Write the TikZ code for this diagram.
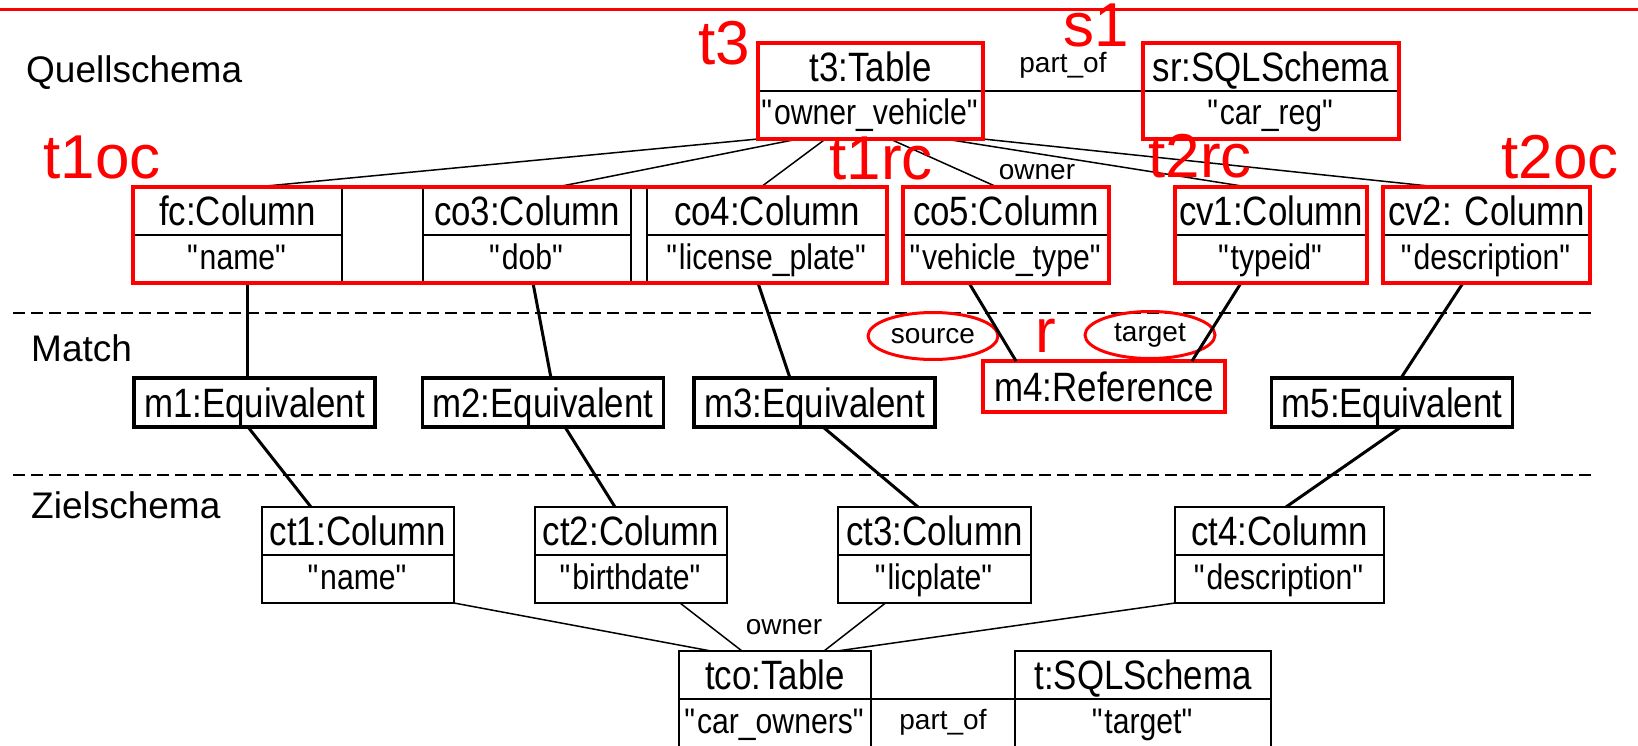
\documentclass[tikz,border=0pt]{standalone}
\usepackage{fontspec}
\setmainfont{Liberation Sans}
\newfontfamily\boxfont{Liberation Sans}[FakeStretch=0.85]
\newcommand{\qstr}[1]{\textquotedbl#1\textquotedbl}
\usetikzlibrary{positioning,shapes.geometric}

\tikzset{
  hd/.style={draw, line width=1.8pt, outer sep=0pt, inner sep=0pt, minimum height=48pt, text height=29pt, text depth=-3pt, font=\boxfont\fontsize{41}{48}\selectfont},
  vl/.style={draw, line width=1.8pt, outer sep=0pt, inner sep=0pt, minimum height=48pt, text height=25pt, text depth=5pt, font=\boxfont\fontsize{35.5}{42}\selectfont},
  mbox/.style={draw, line width=3.2pt, outer sep=0pt, inner sep=0pt, minimum width=241pt, minimum height=49pt, text height=29pt, text depth=-2pt, font=\boxfont\fontsize{41}{48}\selectfont},
  redbox/.style={draw=red, line width=4pt},
  redlbl/.style={red, inner sep=0pt, font=\fontsize{62}{70}\selectfont},
  secl/.style={anchor=west, inner sep=0pt, font=\fontsize{37}{44}\selectfont},
  lbl/.style={inner sep=0pt, font=\fontsize{28}{32}\selectfont},
  conn/.style={line width=1.5pt},
  mcon/.style={line width=3pt},
  layerline/.style={line width=1.5pt, dash pattern=on 12pt off 6pt},
  role/.style={ellipse, draw=red, line width=3pt, minimum width=130pt, minimum height=47pt, inner sep=0pt, font=\fontsize{28}{32}\selectfont},
}

\begin{document}
\begin{tikzpicture}[x=1pt, y=-1pt]
  \useasboundingbox (0,0) rectangle (1638,746);
  \draw[red, line width=3pt] (0,10) -- (1638,10);

  % layers
  \node[secl] (quell) at (26,73) {Quellschema};
  \node[secl] (match) at (31,348) {Match};
  \node[secl] (ziel) at (31,505) {Zielschema};
  \draw[layerline] (13,313) -- (1594,313);
  \draw[layerline] (13,475) -- (1594,475);

  % source schema
  \node[hd, minimum width=225pt] (t3) at (870.5,67) {t3:Table};
  \node[vl, minimum width=225pt, below=0pt of t3] (t3v) {\qstr{owner\_vehicle}};
  \node[hd, minimum width=256pt] (sr) at (1271,67) {sr:SQLSchema};
  \node[vl, minimum width=256pt, below=0pt of sr] (srv) {\qstr{car\_reg}};

  \node[hd, minimum width=209pt] (fc) at (237.5,211) {fc:Column};
  \node[vl, minimum width=209pt, below=0pt of fc] (fcv) {\qstr{name}};
  \node[hd, minimum width=208pt] (co3) at (527,211) {co3:Column};
  \node[vl, minimum width=208pt, below=0pt of co3] (co3v) {\qstr{dob}};
  \node[hd, minimum width=240pt] (co4) at (767,211) {co4:Column};
  \node[vl, minimum width=240pt, below=0pt of co4] (co4v) {\qstr{license\_plate}};
  \node[hd, minimum width=206pt] (co5) at (1006,211) {co5:Column};
  \node[vl, minimum width=206pt, below=0pt of co5] (co5v) {\qstr{vehicle\_type}};
  \node[hd, minimum width=192pt] (cv1) at (1271,211) {cv1:Column};
  \node[vl, minimum width=192pt, below=0pt of cv1] (cv1v) {\qstr{typeid}};
  \node[hd, minimum width=207pt] (cv2) at (1486.5,211) {cv2: Column};
  \node[vl, minimum width=207pt, below=0pt of cv2] (cv2v) {\qstr{description}};

  \draw[conn] (t3.south east) -- node[lbl, above=12pt] (po1) {part\_of} (sr.south west);
  \draw[conn] (t3v.south west) -- ([xshift=18.5pt]fc.north);
  \draw[conn] ([xshift=-72.5pt]t3v.south) -- ([xshift=30pt]co3.north);
  \draw[conn] ([xshift=-45pt]t3v.south) -- ([xshift=-6pt]co4.north);
  \draw[conn] ([xshift=19.5pt]t3v.south) -- ([xshift=-9pt]co5.north);
  \draw[conn] ([xshift=74.5pt]t3v.south) -- ([xshift=-23pt]cv1.north);
  \draw[conn] (t3v.south east) -- ([xshift=-48.5pt]cv2.north);
  \node[lbl] (own1) at (1037,172) {owner};

  % match
  \node[mbox] (m1) at (254.5,402.5) {m1:Equivalent};
  \node[mbox] (m2) at (543,402.5) {m2:Equivalent};
  \node[mbox] (m3) at (814.5,402.5) {m3:Equivalent};
  \node[mbox, draw=red, minimum width=242pt, minimum height=51pt] (m4) at (1104,386.5) {m4:Reference};
  \node[mbox] (m5) at (1392,402.5) {m5:Equivalent};
  \node[role] (src) at (933,336) {source};
  \node[role] (tgt) at (1150,335) {target};

  \draw[mcon] ([xshift=9.5pt]fcv.south) -- ([xshift=-7.5pt]m1.north);
  \draw[mcon] ([xshift=6pt]co3v.south) -- ([xshift=8pt]m2.north);
  \draw[mcon] ([xshift=-9pt]co4v.south) -- ([xshift=-24.5pt]m3.north);
  \draw[mcon] ([xshift=-37pt]co5v.south) -- ([xshift=-88pt]m4.north);  % source
  \draw[mcon] ([xshift=-30pt]cv1v.south) -- ([xshift=88pt]m4.north);   % target
  \draw[mcon] ([xshift=-23.5pt]cv2v.south) -- ([xshift=9pt]m5.north);

  % target schema
  \node[hd, minimum width=192pt] (ct1) at (358,531) {ct1:Column};
  \node[vl, minimum width=192pt, below=0pt of ct1] (ct1v) {\qstr{name}};
  \node[hd, minimum width=192pt] (ct2) at (631,531) {ct2:Column};
  \node[vl, minimum width=192pt, below=0pt of ct2] (ct2v) {\qstr{birthdate}};
  \node[hd, minimum width=193pt] (ct3) at (934.5,531) {ct3:Column};
  \node[vl, minimum width=193pt, below=0pt of ct3] (ct3v) {\qstr{licplate}};
  \node[hd, minimum width=209pt] (ct4) at (1279.5,531) {ct4:Column};
  \node[vl, minimum width=209pt, below=0pt of ct4] (ct4v) {\qstr{description}};
  \node[hd, minimum width=192pt] (tco) at (775,675) {tco:Table};
  \node[vl, minimum width=192pt, below=0pt of tco] (tcov) {\qstr{car\_owners}};
  \node[hd, minimum width=256pt] (tsch) at (1143,675) {t:SQLSchema};
  \node[vl, minimum width=256pt, below=0pt of tsch] (tschv) {\qstr{target}};

  \draw[mcon] ([xshift=-6.5pt]m1.south) -- ([xshift=-47pt]ct1.north);
  \draw[mcon] ([xshift=22pt]m2.south) -- ([xshift=-16pt]ct2.north);
  \draw[mcon] ([xshift=8.5pt]m3.south) -- ([xshift=-16.5pt]ct3.north);
  \draw[mcon] ([xshift=9pt]m5.south) -- ([xshift=6.5pt]ct4.north);

  \draw[conn] (ct1v.south east) -- ([xshift=-64pt]tco.north);
  \draw[conn] ([xshift=49pt]ct2v.south) -- ([xshift=-33pt]tco.north);
  \draw[conn] ([xshift=-49pt]ct3v.south) -- ([xshift=49pt]tco.north);
  \draw[conn] (ct4v.south west) -- ([xshift=62pt]tco.north);
  \node[lbl] (own2) at (784,627) {owner};
  \draw[conn] (tco.south east) -- node[lbl, below=9pt] (po2) {part\_of} (tsch.south west);

  % red marks
  \draw[redbox] (t3.north west) rectangle (t3v.south east);
  \draw[redbox] (sr.north west) rectangle (srv.south east);
  \draw[redbox] (fc.north west) rectangle (co4v.south east);
  \draw[redbox] (co5.north west) rectangle (co5v.south east);
  \draw[redbox] (cv1.north west) rectangle (cv1v.south east);
  \draw[redbox] (cv2.north west) rectangle (cv2v.south east);
  \node[redlbl] (lt3) at (724,43) {t3};
  \node[redlbl] (ls1) at (1096,25) {s1};
  \node[redlbl] (lt1oc) at (102,157) {t1oc};
  \node[redlbl] (lt1rc) at (881,158) {t1rc};
  \node[redlbl] (lt2rc) at (1200,156) {t2rc};
  \node[redlbl] (lt2oc) at (1560,157) {t2oc};
  \node[redlbl] (lr) at (1046,336) {r};
\end{tikzpicture}
\end{document}
